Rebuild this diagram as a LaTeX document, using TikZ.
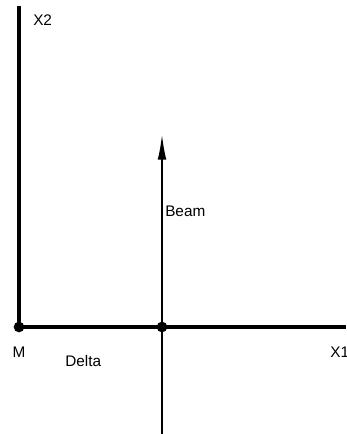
\documentclass[tikz,border=0pt]{standalone}
\usepackage{fontspec}
\setmainfont{Liberation Sans}
\usetikzlibrary{arrows.meta}
\tikzset{lbl/.style={font=\fontsize{11.5}{13}\selectfont, inner sep=0pt},
  dot/.style={circle, fill=black, inner sep=0pt, minimum size=8pt}}
\begin{document}
\begin{tikzpicture}[x=0.75pt, y=-0.75pt]
\useasboundingbox (0,0) rectangle (346,434);
% axes
\node[dot] (M) at (19,327) {};
\node[dot] (B) at (162,327) {};
\coordinate (X2end) at (19,6);
\coordinate (X1end) at (346,327);
\draw[line width=3.3pt] (M.center) -- (X2end);
\draw[line width=2.6pt] (M.center) -- (X1end);
% beam
\coordinate (Bbot) at (162,434);
\coordinate (Btop) at (162,133);
\draw[line width=1.8pt, -{Latex[length=20pt, width=6.5pt]}] (Bbot) -- (Btop);
% labels
\node[lbl, anchor=west] (x2) at (33,20) {X2};
\node[lbl, anchor=west] (beam) at (165,211) {Beam};
\node[lbl] (m) at (19,352) {M};
\node[lbl, anchor=west] (delta) at (65,361) {Delta};
\node[lbl, anchor=west] (x1) at (330,352) {X1};
\end{tikzpicture}
\end{document}
